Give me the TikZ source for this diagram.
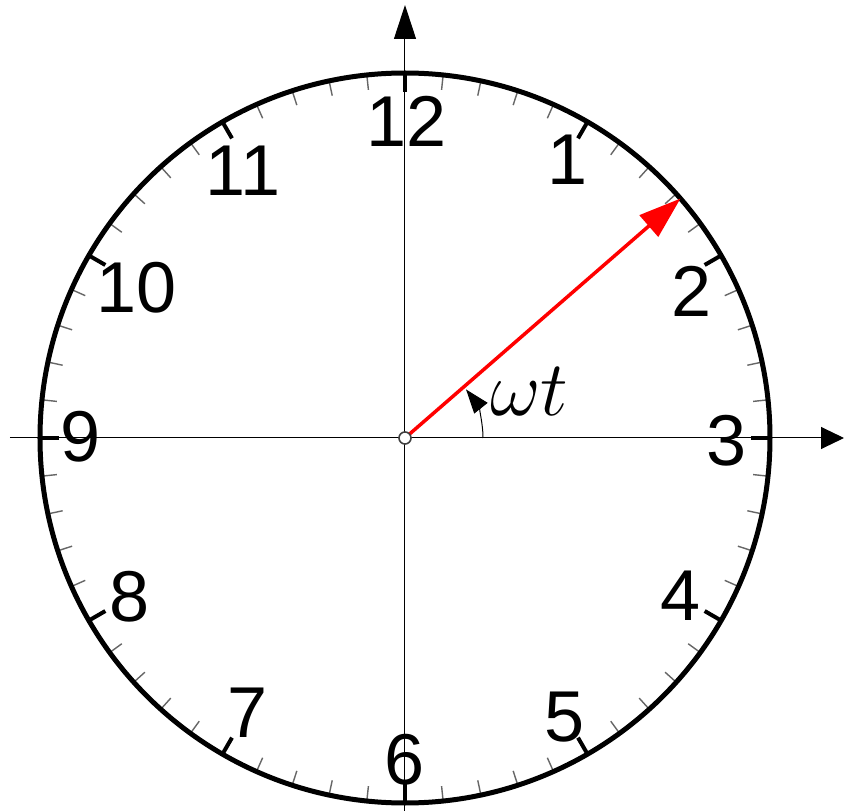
\RequirePackage{fix-cm}
\documentclass[tikz,border=0pt]{standalone}
\usepackage{fontspec}
\setmainfont{Liberation Sans}
\usetikzlibrary{arrows.meta}
\begin{document}
\begin{tikzpicture}[x=1pt,y=1pt,
  rim/.style={line width=5pt},
  hourtick/.style={line width=4pt},
  minutetick/.style={line width=1.4pt, black!60},
  axisline/.style={line width=1pt},
  numeral/.style={inner sep=0pt, font=\fontsize{72}{72}\selectfont},
  phasor/.style={red, line width=3.5pt, -{Triangle[length=42pt,width=28pt]}},
  anglearc/.style={line width=1pt, -{Triangle[length=24pt,width=17pt]}},
]
\useasboundingbox (-405,-373) rectangle (439,438);
\fill[white] (-405,-373) rectangle (439,438);
\coordinate (O) at (0,0);
% minute ticks
\foreach \i in {0,...,59} { \draw[minutetick] (\i*6:350) -- (\i*6:363); }
% hour ticks
\foreach \i in {0,...,11} { \draw[hourtick] (\i*30:346) -- (\i*30:364); }
% rim
\draw[rim] (O) circle (365);
% numerals
\node[numeral] (n12) at (2,317) {12};
\node[numeral] (n1) at (163,278) {1};
\node[numeral] (n2) at (287,147) {2};
\node[numeral] (n3) at (322,-3) {3};
\node[numeral] (n4) at (276,-158) {4};
\node[numeral] (n5) at (160,-279) {5};
\node[numeral] (n6) at (0,-322) {6};
\node[numeral] (n7) at (-157,-275) {7};
\node[numeral] (n8) at (-275,-159) {8};
\node[numeral] (n9) at (-324,1) {9};
\node[numeral] (n10) at (-268,150) {10};
\node[numeral] (n11) at (-162,267) {11};
% axes
\coordinate (xl) at (-395,0);
\coordinate (xr) at (439,0);
\coordinate (yb) at (0,-373);
\coordinate (yt) at (0,433);
\draw[axisline, -{Triangle[length=23pt,width=22pt]}] (xl) -- (xr);
\draw[axisline, -{Triangle[length=34pt,width=22pt]}] (yb) -- (yt);
% phasor
\coordinate (P) at (41:365);
\draw[phasor] (O) -- (P);
% angle arc
\coordinate (A0) at (78,0);
\draw[anglearc] (A0) arc[start angle=0, end angle=38.5, radius=78];
\node[inner sep=0pt, font=\fontsize{78}{78}\selectfont] (wt) at (124,46) {$\omega t$};
% centre pivot
\draw[line width=1.6pt, black!75, fill=white] (O) circle (6);
\end{tikzpicture}
\end{document}
